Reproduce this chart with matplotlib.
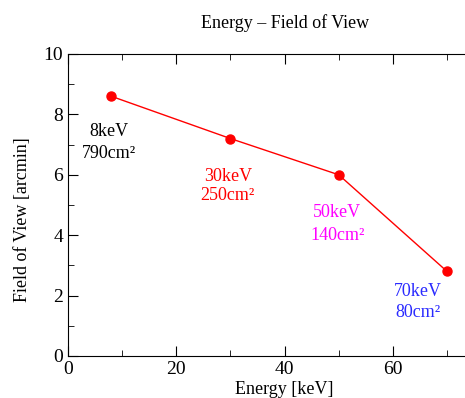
import numpy as np
import matplotlib.pyplot as plt
from matplotlib.ticker import MultipleLocator

plt.rcParams['font.family'] = ['Liberation Serif', 'DejaVu Serif']

# data
energy = [8, 30, 50, 70]
fov = [8.6, 7.2, 6.0, 2.8]
label_energy = ['8keV', '30keV', '50keV', '70keV']
label_area = ['790cm²', '250cm²', '140cm²', '80cm²']
label_x = [7.6, 29.5, 49.7, 64.6]
label_y1 = [7.45, 5.95, 4.75, 2.15]
label_y2 = [6.7, 5.3, 4.0, 1.45]
label_col = ['black', 'red', 'magenta', '#2a2aff']

W, H = 465, 398
fig = plt.figure(figsize=(W / 100, H / 100), dpi=100)
# axes runs off the right edge like the cropped original
x0, y0 = 68, 356
px_per_x = 108.3 / 20
ax_w = 80 * px_per_x
ax = fig.add_axes([x0 / W, (H - y0) / H, ax_w / W, (356 - 54) / H])

ax.plot(energy, fov, '-', color='red', lw=1, marker='o', markersize=6.5)

for i in range(len(energy)):
    ax.text(label_x[i], label_y1[i], label_energy[i], color=label_col[i],
            ha='center', va='center', fontsize=13)
    ax.text(label_x[i], label_y2[i], label_area[i], color=label_col[i],
            ha='center', va='center', fontsize=13)

ax.set_xlim(0, 80)
ax.set_ylim(0, 10)
ax.set_xticks([0, 20, 40, 60])
ax.xaxis.set_minor_locator(MultipleLocator(10))
ax.yaxis.set_major_locator(MultipleLocator(2))
ax.yaxis.set_minor_locator(MultipleLocator(1))
ax.tick_params(which='both', direction='in', top=True, right=True, labelsize=14)
ax.tick_params(which='major', length=7)
ax.tick_params(which='minor', length=4)

ax.set_title('Energy – Field of View', fontsize=13, pad=19)
ax.set_xlabel('Energy [keV]', fontsize=13, labelpad=2)
ax.set_ylabel('Field of View [arcmin]', fontsize=13)
ax.yaxis.set_label_coords((31 - x0) / ax_w, 0.45)

fig.savefig('out.png', dpi=100)
